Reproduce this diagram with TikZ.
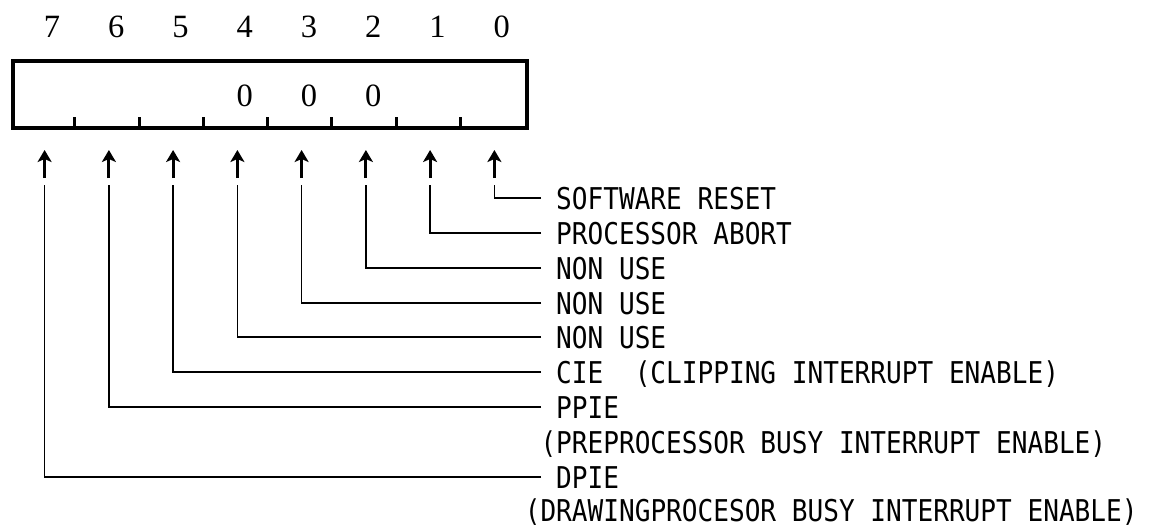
\documentclass[tikz,border=0pt]{standalone}
\usepackage{fontspec}
\usepackage{tikz}
\usetikzlibrary{positioning,arrows.meta}
\newfontfamily\regfont[FakeStretch=0.87]{DejaVu Sans Mono}
\newfontfamily\numfont{Liberation Serif}

\begin{document}
\begin{tikzpicture}[
x=1pt,
y=-1pt,
>={Stealth[length=12pt,width=14pt,inset=3pt]},
node distance=64.25pt,
bitnum/.style={
font=\numfont\fontsize{32.5}{32.5}\selectfont,
inner sep=0pt
},
register/.style={
draw,
line width=4pt,
minimum width=514pt,
minimum height=66.5pt,
inner sep=0pt
},
tick/.style={line width=3pt},
bitarrow/.style={->, line width=3pt},
wire/.style={line width=1.7pt},
desc/.style={
anchor=west,
font=\regfont\fontsize{30}{30}\selectfont,
inner xsep=15pt,
inner ysep=0pt,
text height=22pt,
text depth=0pt
}
]
\useasboundingbox (0,0) rectangle (1160,527);

% register and bit numbers
\node[register] (reg) at (269.5,94.25) {};

\node[bitnum] (b7) at (52.1,27) {7};
\node[bitnum,right of=b7] (b6) {6};
\node[bitnum,right of=b6] (b5) {5};
\node[bitnum,right of=b5] (b4) {4};
\node[bitnum,right of=b4] (b3) {3};
\node[bitnum,right of=b3] (b2) {2};
\node[bitnum,right of=b2] (b1) {1};
\node[bitnum,right of=b1] (b0) {0};

\node[bitnum,below of=b4,node distance=69pt] (z4) {0};
\node[bitnum,below of=b3,node distance=69pt] (z3) {0};
\node[bitnum,below of=b2,node distance=69pt] (z2) {0};

\foreach \k in {1,...,7}
  \draw[tick] ([xshift=\k*64.25pt]reg.south west) -- ++(0,-12.5);

% arrow tips and wire ends
\coordinate (t7) at (44.6,150);  \coordinate (f7) at (44.6,185);
\coordinate (t6) at (108.9,150); \coordinate (f6) at (108.9,185);
\coordinate (t5) at (173.1,150); \coordinate (f5) at (173.1,185);
\coordinate (t4) at (237.4,150); \coordinate (f4) at (237.4,185);
\coordinate (t3) at (301.6,150); \coordinate (f3) at (301.6,185);
\coordinate (t2) at (365.9,150); \coordinate (f2) at (365.9,185);
\coordinate (t1) at (430.1,150); \coordinate (f1) at (430.1,185);
\coordinate (t0) at (494.4,150); \coordinate (f0) at (494.4,185);

% descriptions
\node[desc] (l0) at (541,198) {SOFTWARE RESET};
\node[desc] (l1) at (541,233) {PROCESSOR ABORT};
\node[desc] (l2) at (541,268) {NON USE};
\node[desc] (l3) at (541,303) {NON USE};
\node[desc] (l4) at (541,337) {NON USE};
\node[desc] (l5) at (541,372) {CIE\ \ (CLIPPING INTERRUPT ENABLE)};
\node[desc] (l6) at (541,407) {PPIE};
\node[desc] (l6b) at (525.3,442) {(PREPROCESSOR BUSY INTERRUPT ENABLE)};
\node[desc] (l7) at (541,477) {DPIE};
\node[desc] (l7b) at (509.6,510) {(DRAWINGPROCESOR BUSY INTERRUPT ENABLE)};

\foreach \i in {0,...,7} {
  \draw[bitarrow] ([yshift=-28pt]t\i) -- (t\i);
  \draw[wire] (l\i.west) -| (f\i);
}

\end{tikzpicture}
\end{document}
